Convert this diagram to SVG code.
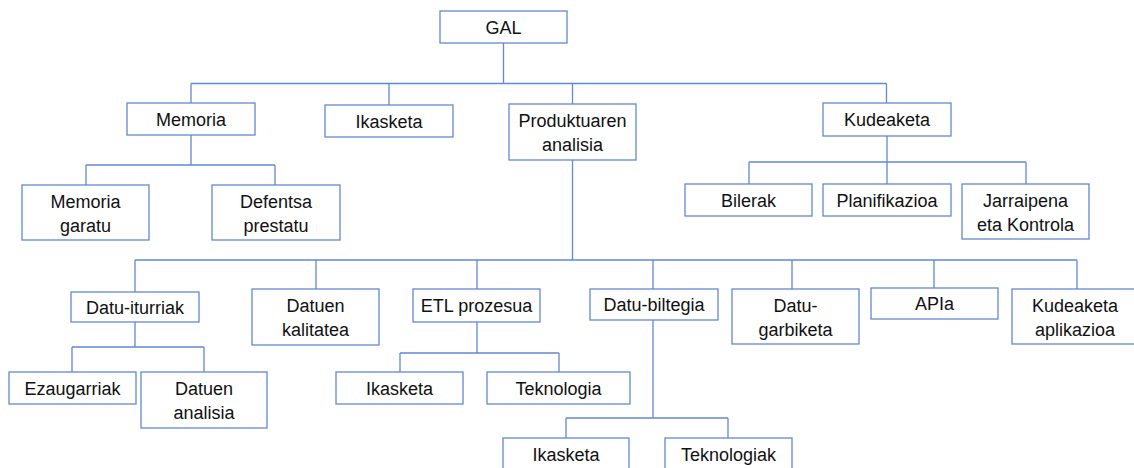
<svg xmlns="http://www.w3.org/2000/svg" width="1134" height="468" viewBox="0 0 1134 468">
  <style>
    .box { fill: #ffffff; stroke: #6289d2; stroke-width: 1.3; }
    .lbl { font-family: "Liberation Sans", Arial, sans-serif; font-size: 18px; fill: #111111; text-anchor: middle; }
    .link { fill: none; stroke: #6289d2; stroke-width: 1.3; }
  </style>
  <rect width="1134" height="468" fill="#ffffff"/>

  <g id="connectors">
    <!-- root level -->
    <path class="link" d="M503.5 43 V83.5 M191 83.5 H886.5 M191 83.5 V103 M389 83.5 V105 M572.5 83.5 V104 M886.5 83.5 V103"/>
    <!-- Memoria -->
    <path class="link" d="M191 135 V165 M86 165 H275 M86 165 V185 M275 165 V185"/>
    <!-- Kudeaketa -->
    <path class="link" d="M887 136 V184 M749 162 H1026 M749 162 V184 M1026 162 V184"/>
    <!-- Produktuaren analisia -->
    <path class="link" d="M572.5 160 V260 M135 260 H1077 M135 260 V292 M316 260 V289 M477 260 V289 M653 260 V289 M792 260 V289 M934 260 V288 M1077 260 V289"/>
    <!-- Datu-iturriak -->
    <path class="link" d="M135 322 V347 M72 347 H204 M72 347 V372 M204 347 V372"/>
    <!-- ETL prozesua -->
    <path class="link" d="M477 322 V353 M400 353 H559 M400 353 V372 M559 353 V372"/>
    <!-- Datu-biltegia -->
    <path class="link" d="M653 320 V418 M566 418 H728 M566 418 V438 M728 418 V438"/>
  </g>

  <g id="gal"><rect class="box" x="440" y="11" width="127" height="32"/><text class="lbl" x="503.5" y="33.5">GAL</text></g>

  <g id="memoria"><rect class="box" x="127" y="103" width="128" height="32"/><text class="lbl" x="191" y="125.5">Memoria</text></g>
  <g id="ikasketa"><rect class="box" x="325" y="105" width="128" height="32"/><text class="lbl" x="389" y="127.5">Ikasketa</text></g>
  <g id="produktuaren-analisia"><rect class="box" x="509" y="104" width="127" height="56"/><text class="lbl" x="572.5" y="127">Produktuaren</text><text class="lbl" x="572.5" y="151">analisia</text></g>
  <g id="kudeaketa"><rect class="box" x="823" y="103" width="128" height="33"/><text class="lbl" x="887" y="126">Kudeaketa</text></g>

  <g id="memoria-garatu"><rect class="box" x="22" y="185" width="127" height="55"/><text class="lbl" x="85.5" y="207.5">Memoria</text><text class="lbl" x="85.5" y="231.5">garatu</text></g>
  <g id="defentsa-prestatu"><rect class="box" x="212" y="185" width="128" height="55"/><text class="lbl" x="276" y="207.5">Defentsa</text><text class="lbl" x="276" y="231.5">prestatu</text></g>

  <g id="bilerak"><rect class="box" x="685" y="184" width="127" height="32"/><text class="lbl" x="748.5" y="206.5">Bilerak</text></g>
  <g id="planifikazioa"><rect class="box" x="823" y="184" width="128" height="32"/><text class="lbl" x="887" y="206.5">Planifikazioa</text></g>
  <g id="jarraipena-kontrola"><rect class="box" x="962" y="184" width="127" height="55"/><text class="lbl" x="1025.5" y="206.5">Jarraipena</text><text class="lbl" x="1025.5" y="230.5">eta Kontrola</text></g>

  <g id="datu-iturriak"><rect class="box" x="71" y="292" width="128" height="30"/><text class="lbl" x="135" y="313.5">Datu-iturriak</text></g>
  <g id="datuen-kalitatea"><rect class="box" x="252" y="289" width="127" height="56"/><text class="lbl" x="315.5" y="312">Datuen</text><text class="lbl" x="315.5" y="336">kalitatea</text></g>
  <g id="etl-prozesua"><rect class="box" x="413" y="289" width="127" height="33"/><text class="lbl" x="476.5" y="312">ETL prozesua</text></g>
  <g id="datu-biltegia"><rect class="box" x="590" y="289" width="128" height="31"/><text class="lbl" x="654" y="311">Datu-biltegia</text></g>
  <g id="datu-garbiketa"><rect class="box" x="732" y="289" width="127" height="55"/><text class="lbl" x="795.5" y="311.5">Datu-</text><text class="lbl" x="795.5" y="335.5">garbiketa</text></g>
  <g id="apia"><rect class="box" x="871" y="288" width="127" height="31"/><text class="lbl" x="934.5" y="310">APIa</text></g>
  <g id="kudeaketa-aplikazioa"><rect class="box" x="1012" y="289" width="127" height="55"/><text class="lbl" x="1075" y="311.5">Kudeaketa</text><text class="lbl" x="1075" y="335.5">aplikazioa</text></g>

  <g id="ezaugarriak"><rect class="box" x="9" y="372" width="127" height="32"/><text class="lbl" x="72.5" y="394.5">Ezaugarriak</text></g>
  <g id="datuen-analisia"><rect class="box" x="141" y="372" width="126" height="56"/><text class="lbl" x="204" y="395">Datuen</text><text class="lbl" x="204" y="419">analisia</text></g>

  <g id="etl-ikasketa"><rect class="box" x="336" y="372" width="127" height="32"/><text class="lbl" x="399.5" y="394.5">Ikasketa</text></g>
  <g id="etl-teknologia"><rect class="box" x="487" y="372" width="143" height="32"/><text class="lbl" x="558.5" y="394.5">Teknologia</text></g>

  <g id="db-ikasketa"><rect class="box" x="503" y="438" width="126" height="34"/><text class="lbl" x="566" y="460.5">Ikasketa</text></g>
  <g id="db-teknologiak"><rect class="box" x="665" y="438" width="127" height="34"/><text class="lbl" x="728.5" y="460.5">Teknologiak</text></g>
</svg>
